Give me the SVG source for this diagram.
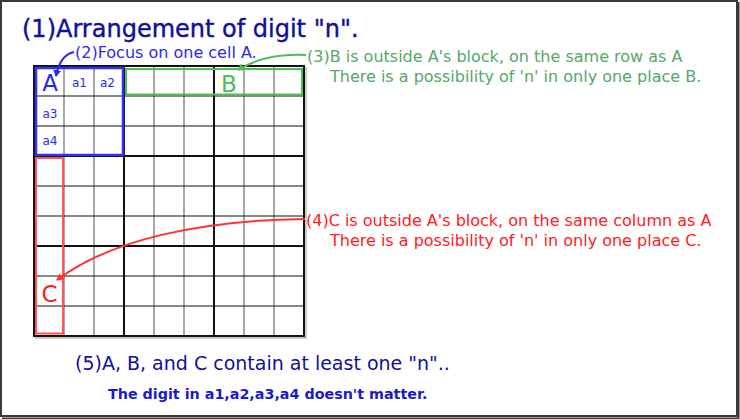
<svg xmlns="http://www.w3.org/2000/svg" width="740" height="419" viewBox="0 0 740 419">
<defs>
<style>
text{font-family:"DejaVu Sans",Verdana,sans-serif}
.thinv{stroke:#8a8a8a;stroke-width:1.5}
.thinh{stroke:#111;stroke-width:1.2}
.thick{stroke:#111;stroke-width:2}
.blue{fill:#2a2aee}
.dblue{fill:#10109a}
.green{fill:#55a866}
.red{fill:#ff2020}
</style>
<marker id="mb" markerWidth="8" markerHeight="8" refX="6" refY="4" orient="auto" markerUnits="userSpaceOnUse"><path d="M0,0 L7,4 L0,8 Z" fill="#2a2aee"/></marker>
<marker id="mg" markerWidth="8" markerHeight="8" refX="6" refY="4" orient="auto" markerUnits="userSpaceOnUse"><path d="M0,0 L7,4 L0,8 Z" fill="#4fbb5a"/></marker>
<marker id="mr" markerWidth="8" markerHeight="8" refX="6" refY="4" orient="auto" markerUnits="userSpaceOnUse"><path d="M0,0 L7,4 L0,8 Z" fill="#ff3333"/></marker>
</defs>
<rect x="0" y="0" width="740" height="419" fill="#fff"/>
<rect x="1" y="1" width="736" height="415" fill="none" stroke="#3a3a3a" stroke-width="2"/>
<path d="M738.5 2 V418.5 H2" fill="none" stroke="#3a3a3a" stroke-width="2"/>

<g id="grid">
<g class="thinv">
<line x1="64" y1="66" x2="64" y2="336"/><line x1="94" y1="66" x2="94" y2="336"/>
<line x1="154" y1="66" x2="154" y2="336"/><line x1="184" y1="66" x2="184" y2="336"/>
<line x1="244" y1="66" x2="244" y2="336"/><line x1="274" y1="66" x2="274" y2="336"/>
</g>
<g class="thinh">
<line x1="34" y1="96" x2="304" y2="96"/><line x1="34" y1="126" x2="304" y2="126"/>
<line x1="34" y1="186" x2="304" y2="186"/><line x1="34" y1="216" x2="304" y2="216"/>
<line x1="34" y1="276" x2="304" y2="276"/><line x1="34" y1="306" x2="304" y2="306"/>
</g>
<g class="thick">
<line x1="124" y1="66" x2="124" y2="336"/><line x1="214" y1="66" x2="214" y2="336"/>
<line x1="34" y1="156" x2="304" y2="156"/><line x1="34" y1="246" x2="304" y2="246"/>
</g>
<path d="M35 338 H306 V67" fill="none" stroke="#bbb" stroke-width="1.5"/>
<rect x="34" y="66" width="270" height="270" fill="none" stroke="#111" stroke-width="2"/>
</g>

<g id="title"><text x="22" y="37" font-size="24" class="dblue" stroke="#10109a" stroke-width="0.4">(1)Arrangement of digit "n".</text></g>

<g id="blockA">
<rect x="36" y="68" width="87" height="87" fill="none" stroke="#3333ee" stroke-width="2.5"/>
<text x="50" y="91" font-size="23" class="blue" text-anchor="middle">A</text>
<text x="79.5" y="87" font-size="12" class="blue" text-anchor="middle">a1</text>
<text x="107.5" y="87" font-size="12" class="blue" text-anchor="middle">a2</text>
<text x="50" y="118" font-size="12" class="blue" text-anchor="middle">a3</text>
<text x="50" y="145" font-size="12" class="blue" text-anchor="middle">a4</text>
</g>

<g id="note2"><text x="75" y="58" font-size="16" class="blue">(2)Focus on one cell A.</text></g>

<g id="cellB">
<rect x="126" y="69" width="176" height="25.5" fill="none" stroke="#4fbb5a" stroke-width="2"/>
<text x="229" y="92" font-size="23" text-anchor="middle" fill="#4fbb5a">B</text>
</g>

<g id="note3">
<text x="307" y="62" font-size="16" class="green">(3)B is outside A's block, on the same row as A</text>
<text x="330" y="82" font-size="16" class="green">There is a possibility of 'n' in only one place B.</text>
</g>

<g id="cellC">
<rect x="36" y="158" width="27" height="175.5" fill="none" stroke="#ff5555" stroke-width="2"/>
<text x="49.5" y="302" font-size="23" class="red" text-anchor="middle">C</text>
</g>

<g id="note4">
<text x="306" y="226" font-size="16" class="red">(4)C is outside A's block, on the same column as A</text>
<text x="330" y="246" font-size="16" class="red">There is a possibility of 'n' in only one place C.</text>
</g>

<g id="note5">
<text x="75" y="370" font-size="19" class="dblue">(5)A, B, and C contain at least one "n"..</text>
<text x="108" y="399" font-size="14.3" font-weight="bold" fill="#1a1acc">The digit in a1,a2,a3,a4 doesn't matter.</text>
</g>

<g id="connectors" fill="none" stroke-width="2">
<path d="M74 52 Q60 55 56 76" stroke="#2a2aee" marker-end="url(#mb)"/>
<path d="M306 55 Q265 53 238 70" stroke="#4fbb5a" marker-end="url(#mg)"/>
<path d="M305 219 C200 220 110 240 57 280" stroke="#ff3333" marker-end="url(#mr)"/>
</g>
</svg>
